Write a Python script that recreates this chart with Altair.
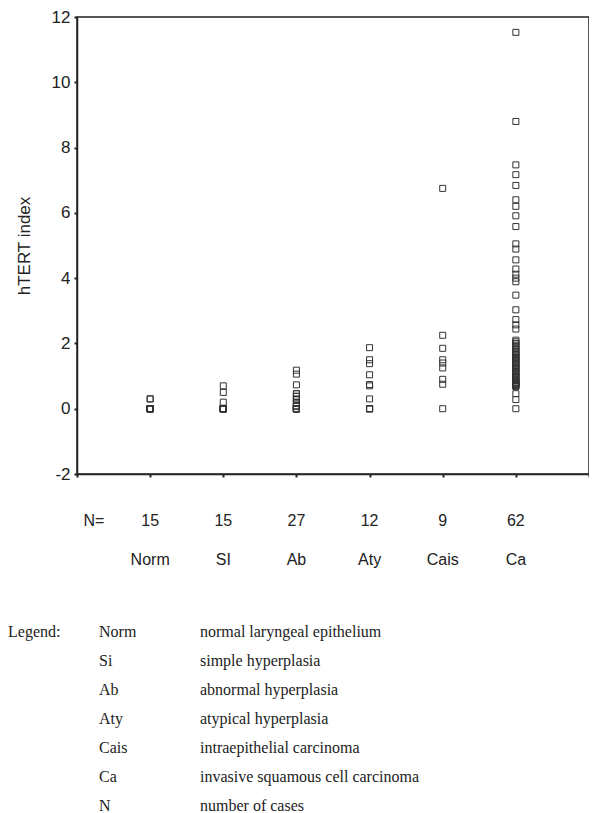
import altair as alt
import pandas as pd

# ---- data ----
categories = ["Norm", "SI", "Ab", "Aty", "Cais", "Ca"]
positions = [1, 2, 3, 4, 5, 6]
n_cases = [15, 15, 27, 12, 9, 62]

norm_vals = [0.3, 0.3, 0, 0, 0, 0, 0, 0, 0, 0, 0, 0, 0, 0, 0]
si_vals = [0.7, 0.5, 0.2, 0, 0, 0, 0, 0, 0, 0, 0, 0, 0, 0, 0]
ab_vals = [1.18, 1.06, 0.73, 0.46, 0.38, 0.29, 0.18, 0.08, 0,
           0.46, 0.38, 0.29, 0.18, 0.08, 0, 0.29, 0.18, 0.08,
           0, 0, 0, 0, 0, 0, 0, 0, 0]
aty_vals = [1.87, 1.5, 1.38, 1.04, 0.74, 0.7, 0.3, 0, 0, 0, 0, 0]
cais_vals = [6.75, 2.25, 1.85, 1.5, 1.4, 1.25, 0.9, 0.75, 0]
ca_vals = [11.53, 8.8, 7.47, 7.17, 6.84, 6.4, 6.2, 5.91, 5.58, 5.05, 4.89,
           4.56, 4.28, 4.12, 4.0, 3.89, 3.48, 3.03, 2.73, 2.57, 2.44,
           2.1, 2.05, 2.0, 1.95, 1.9, 1.85, 1.8, 1.75, 1.7,
           1.66, 1.62, 1.58, 1.54, 1.5, 1.46, 1.42, 1.38, 1.34, 1.3,
           1.26, 1.22, 1.18, 1.14, 1.1, 1.06, 1.02, 0.98, 0.94, 0.9,
           0.86, 0.82, 0.8, 0.78, 0.76, 0.74, 0.72, 0.7, 0.68,
           0.46, 0.28, 0]

y_ticks = [-2, 0, 2, 4, 6, 8, 10, 12]
x_ticks = [0, 1, 2, 3, 4, 5, 6, 7]

legend_abbr = ["Norm", "Si", "Ab", "Aty", "Cais", "Ca", "N"]
legend_desc = ["normal laryngeal epithelium", "simple hyperplasia",
               "abnormal hyperplasia", "atypical hyperplasia",
               "intraepithelial carcinoma", "invasive squamous cell carcinoma",
               "number of cases"]

# ---- tables ----
groups = [norm_vals, si_vals, ab_vals, aty_vals, cais_vals, ca_vals]
rows = []
for pos, cat, vals in zip(positions, categories, groups):
    for v in vals:
        rows.append({"pos": pos, "cat": cat, "value": v})
points_df = pd.DataFrame(rows)

cat_df = pd.DataFrame({"pos": positions, "cat": categories,
                       "n": [str(n) for n in n_cases]})
legend_df = pd.DataFrame({"row": list(range(len(legend_abbr))),
                          "abbr": legend_abbr, "desc": legend_desc})
legend_head = pd.DataFrame({"row": [0], "t": ["Legend:"]})
nlabel_df = pd.DataFrame({"t": ["N="]})

SANS = "Liberation Sans"
SERIF = "Liberation Serif"
INK = "#222222"

xscale = alt.Scale(domain=[0, 7], nice=False, zero=False)
yscale = alt.Scale(domain=[-2, 12], nice=False, zero=False)

points = alt.Chart(points_df).mark_point(
    shape="square", filled=False, size=36, stroke="#333333", strokeWidth=1, opacity=1
).encode(
    x=alt.X("pos:Q", scale=xscale,
            axis=alt.Axis(values=x_ticks, labels=False, title=None, grid=False,
                          ticks=True, tickSize=3, tickWidth=2, tickColor=INK,
                          domainColor=INK, domainWidth=1.5)),
    y=alt.Y("value:Q", scale=yscale,
            axis=alt.Axis(values=y_ticks, title="hTERT index", grid=False,
                          tickSize=3, tickWidth=2, tickColor=INK,
                          domainColor=INK, domainWidth=1.5,
                          labelExpr="'' + datum.value",
                          labelFont=SANS, labelFontSize=17, labelColor=INK,
                          labelPadding=4, labelFlush=False,
                          titleFont=SANS, titleFontSize=17, titleFontWeight="normal",
                          titleColor=INK, titleX=-44)),
)

n_text = alt.Chart(cat_df).mark_text(
    font=SANS, fontSize=16, color=INK, baseline="middle", align="center"
).encode(x=alt.X("pos:Q", scale=xscale), y=alt.value(504), text="n:N")

cat_text = alt.Chart(cat_df).mark_text(
    font=SANS, fontSize=16, color=INK, baseline="middle", align="center"
).encode(x=alt.X("pos:Q", scale=xscale), y=alt.value(543), text="cat:N")

n_label = alt.Chart(nlabel_df).mark_text(
    font=SANS, fontSize=16, color=INK, baseline="middle", align="center"
).encode(x=alt.value(17), y=alt.value(504), text="t:N")

leg_scale = alt.Scale(domain=[0, 6], range=[615, 789])

leg_head = alt.Chart(legend_head).mark_text(
    font=SERIF, fontSize=16, color=INK, baseline="middle", align="left"
).encode(x=alt.value(-69), y=alt.Y("row:Q", scale=leg_scale, axis=None), text="t:N")

leg_abbr = alt.Chart(legend_df).mark_text(
    font=SERIF, fontSize=16, color=INK, baseline="middle", align="left"
).encode(x=alt.value(22), y=alt.Y("row:Q", scale=leg_scale, axis=None), text="abbr:N")

leg_desc = alt.Chart(legend_df).mark_text(
    font=SERIF, fontSize=16, color=INK, baseline="middle", align="left"
).encode(x=alt.value(123), y=alt.Y("row:Q", scale=leg_scale, axis=None), text="desc:N")

main = alt.layer(points, n_text, cat_text, n_label)
legend = alt.layer(leg_head, leg_abbr, leg_desc)

chart = alt.layer(main, legend).resolve_scale(y="independent").properties(
    width=512, height=457,
    background="white",
    autosize=alt.AutoSizeParams(type="none"),
    padding={"left": 69, "top": 9, "right": 0, "bottom": 339},
).configure_view(stroke=INK, strokeWidth=1.5)

chart.save("out.html", embed_options={"renderer": "svg", "actions": False})
